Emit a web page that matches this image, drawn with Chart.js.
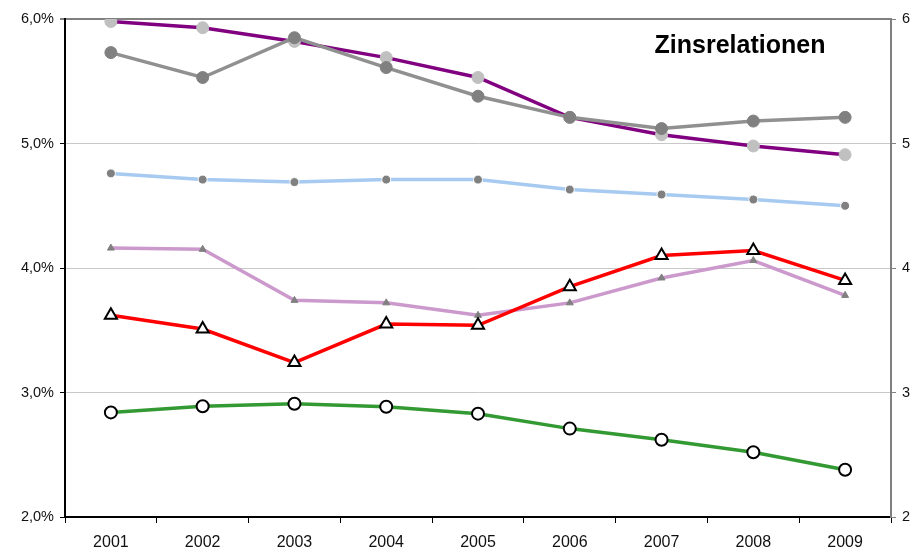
<!DOCTYPE html>
<html>
<head>
<meta charset="utf-8">
<style>
  html, body { margin: 0; padding: 0; background: #ffffff; }
  #wrap { position: relative; width: 918px; height: 554px; }
</style>
<script src="https://cdn.jsdelivr.net/npm/chart.js@4/dist/chart.umd.min.js"></script>
</head>
<body>
<div id="wrap"><canvas id="c" width="918" height="554"></canvas></div>
<script>
const years = ['2001','2002','2003','2004','2005','2006','2007','2008','2009'];
const chartTitle = 'Zinsrelationen';
const leftTicks = [2, 3, 4, 5, 6];

const purpleSeries = [5.98, 5.93, 5.82, 5.69, 5.53, 5.21, 5.07, 4.98, 4.91];
const graySeries   = [5.73, 5.53, 5.85, 5.61, 5.38, 5.21, 5.12, 5.18, 5.21];
const blueSeries   = [4.76, 4.71, 4.69, 4.71, 4.71, 4.63, 4.59, 4.55, 4.50];
const lilacSeries  = [4.16, 4.15, 3.74, 3.72, 3.62, 3.72, 3.92, 4.06, 3.78];
const redSeries    = [3.62, 3.51, 3.24, 3.55, 3.54, 3.85, 4.10, 4.14, 3.90];
const greenSeries  = [2.84, 2.89, 2.91, 2.885, 2.83, 2.71, 2.62, 2.52, 2.38];

const titlePlugin = {
  id: 'innerTitle',
  afterDraw(chart) {
    const ctx = chart.ctx;
    ctx.save();
    ctx.font = 'bold 25px "Liberation Sans", Arial, sans-serif';
    ctx.fillStyle = '#000';
    ctx.textAlign = 'center';
    ctx.textBaseline = 'middle';
    ctx.fillText(chartTitle, 740, 46);
    ctx.restore();
  }
};

const yFont = { family: '"Liberation Sans", Arial, sans-serif', size: 14.5 };
const xFont = { family: '"Liberation Sans", Arial, sans-serif', size: 16 };

new Chart(document.getElementById('c'), {
  type: 'line',
  data: {
    labels: years,
    datasets: [
      { data: greenSeries, borderColor: '#339933', borderWidth: 3.5, pointStyle: 'circle', pointRadius: 6, pointBackgroundColor: '#ffffff', pointBorderColor: '#000000', pointBorderWidth: 2, order: 1 },
      { data: redSeries, borderColor: '#ff0000', borderWidth: 3.5, pointStyle: 'triangle', pointRadius: 7, pointBackgroundColor: '#ffffff', pointBorderColor: '#000000', pointBorderWidth: 2, order: 2 },
      { data: lilacSeries, borderColor: '#cc99cc', borderWidth: 3.5, pointStyle: 'triangle', pointRadius: 4, pointBackgroundColor: '#808080', pointBorderColor: '#808080', pointBorderWidth: 1, order: 3 },
      { data: blueSeries, borderColor: '#a6caf0', borderWidth: 3.5, pointStyle: 'circle', pointRadius: 4.5, pointBackgroundColor: '#808080', pointBorderColor: '#ffffff', pointBorderWidth: 1, order: 4 },
      { data: graySeries, borderColor: '#909090', borderWidth: 3.5, pointStyle: 'circle', pointRadius: 6, pointBackgroundColor: '#808080', pointBorderColor: '#808080', pointBorderWidth: 1, order: 5 },
      { data: purpleSeries, borderColor: '#800080', borderWidth: 3.5, pointStyle: 'circle', pointRadius: 6, pointBackgroundColor: '#c0c0c0', pointBorderColor: '#c0c0c0', pointBorderWidth: 1, order: 6 }
    ].map(d => Object.assign({ fill: false, tension: 0, yAxisID: 'y' }, d))
  },
  options: {
    responsive: false,
    animation: false,
    events: [],
    layout: { padding: { top: 19, left: 0, right: 0, bottom: 0 } },
    plugins: { legend: { display: false }, tooltip: { enabled: false }, title: { display: false } },
    scales: {
      x: {
        type: 'category',
        offset: true,
        afterFit(s) { s.height = 37; },
        border: { color: '#000000', width: 2 },
        grid: { offset: true, drawOnChartArea: false, drawTicks: true, tickLength: 6, tickColor: '#000000', tickWidth: 1 },
        ticks: { font: xFont, color: '#111', padding: 10, maxRotation: 0 }
      },
      y: {
        position: 'left',
        min: 2, max: 6,
        afterFit(s) { s.width = 65; },
        afterBuildTicks(s) { s.ticks = leftTicks.map(v => ({ value: v })); },
        border: { color: '#000000', width: 2 },
        grid: {
          color: ctx => ctx.tick && ctx.tick.value === 6 ? '#808080' : (ctx.tick && ctx.tick.value === 2 ? 'rgba(0,0,0,0)' : '#c8c8c8'),
          lineWidth: ctx => ctx.tick && ctx.tick.value === 6 ? 2 : 1,
          drawTicks: true, tickLength: 5, tickColor: '#000000', tickWidth: 1
        },
        ticks: { font: yFont, color: '#111', padding: 6, callback: v => v.toFixed(1).replace('.', ',') + '%' }
      },
      y2: {
        position: 'right',
        min: 2, max: 6,
        afterFit(s) { s.width = 27; },
        afterBuildTicks(s) { s.ticks = leftTicks.map(v => ({ value: v })); },
        border: { color: '#808080', width: 2 },
        grid: { drawOnChartArea: false, drawTicks: true, tickLength: 5, tickColor: '#808080', tickWidth: 1 },
        ticks: { font: yFont, color: '#111', padding: 6, callback: v => String(v) }
      }
    }
  },
  plugins: [titlePlugin]
});
</script>
</body>
</html>
